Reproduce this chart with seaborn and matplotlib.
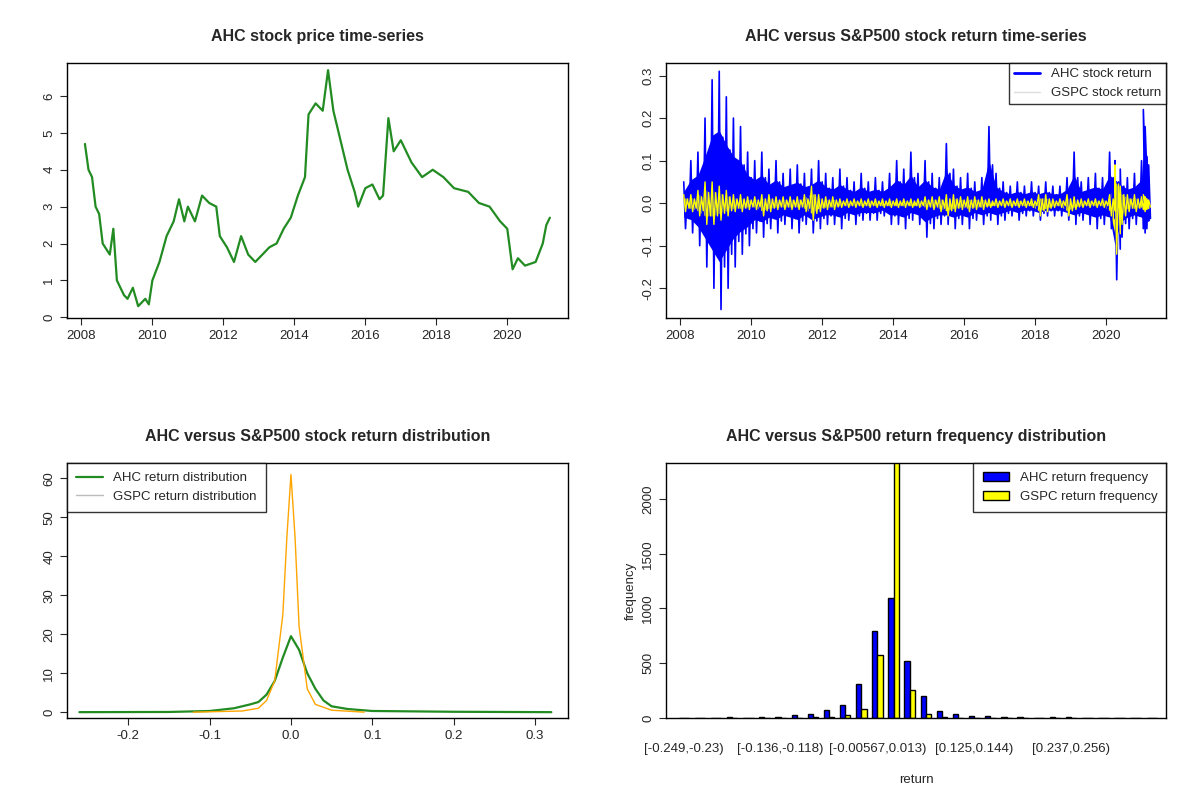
import matplotlib
matplotlib.use("Agg")
import matplotlib.pyplot as plt
import seaborn as sns
import numpy as np
import pandas as pd

sns.set_style("white")
plt.rcParams['font.family'] = ['Liberation Sans', 'DejaVu Sans']

price_t = [2008.1,2008.2,2008.3,2008.4,2008.5,2008.6,2008.8,2008.9,2009.0,2009.2,2009.3,2009.45,2009.6,2009.8,2009.9,2010.0,2010.2,2010.4,2010.6,2010.75,2010.9,2011.0,2011.2,2011.4,2011.6,2011.8,2011.9,2012.1,2012.3,2012.5,2012.7,2012.9,2013.1,2013.3,2013.5,2013.7,2013.9,2014.1,2014.3,2014.4,2014.6,2014.8,2014.95,2015.1,2015.3,2015.5,2015.7,2015.8,2016.0,2016.2,2016.4,2016.5,2016.65,2016.8,2017.0,2017.3,2017.6,2017.9,2018.2,2018.5,2018.9,2019.2,2019.5,2019.8,2020.0,2020.15,2020.3,2020.5,2020.8,2021.0,2021.1,2021.2]
price_v = [4.7,4.0,3.8,3.0,2.8,2.0,1.7,2.4,1.0,0.6,0.5,0.8,0.3,0.5,0.35,1.0,1.5,2.2,2.6,3.2,2.6,3.0,2.6,3.3,3.1,3.0,2.2,1.9,1.5,2.2,1.7,1.5,1.7,1.9,2.0,2.4,2.7,3.3,3.8,5.5,5.8,5.6,6.7,5.6,4.8,4.0,3.4,3.0,3.5,3.6,3.2,3.3,5.4,4.5,4.8,4.2,3.8,4.0,3.8,3.5,3.4,3.1,3.0,2.6,2.4,1.3,1.6,1.4,1.5,2.0,2.5,2.7]

ret_t = [2008.1,2008.3,2008.5,2008.7,2008.9,2009.1,2009.3,2009.5,2009.7,2009.9,2010.1,2010.3,2010.5,2010.7,2010.9,2011.1,2011.3,2011.5,2011.7,2011.9,2012.1,2012.3,2012.5,2012.7,2012.9,2013.1,2013.3,2013.5,2013.7,2013.9,2014.1,2014.3,2014.5,2014.7,2014.9,2015.1,2015.3,2015.5,2015.7,2015.9,2016.1,2016.3,2016.5,2016.7,2016.9,2017.1,2017.3,2017.5,2017.7,2017.9,2018.1,2018.3,2018.5,2018.7,2018.9,2019.1,2019.3,2019.5,2019.7,2019.9,2020.1,2020.25,2020.4,2020.6,2020.8,2021.0,2021.05,2021.1]
ahc_hi = [.05,.1,.12,.2,.29,.31,.25,.2,.18,.12,.1,.12,.08,.1,.07,.08,.09,.07,.08,.1,.07,.06,.08,.06,.05,.07,.05,.06,.05,.07,.1,.08,.12,.07,.1,.07,.06,.14,.08,.06,.07,.05,.06,.18,.07,.05,.04,.05,.04,.05,.04,.05,.04,.04,.06,.12,.05,.06,.07,.06,.12,.1,.08,.06,.07,.1,.22,.18]
ahc_lo = [-.06,-.07,-.1,-.15,-.2,-.25,-.2,-.15,-.12,-.1,-.07,-.08,-.06,-.07,-.05,-.06,-.07,-.05,-.07,-.06,-.05,-.05,-.06,-.04,-.05,-.04,-.04,-.04,-.03,-.05,-.05,-.06,-.04,-.05,-.08,-.06,-.05,-.05,-.06,-.05,-.06,-.04,-.05,-.04,-.05,-.04,-.03,-.04,-.03,-.03,-.04,-.03,-.03,-.03,-.04,-.05,-.04,-.05,-.06,-.05,-.06,-.18,-.08,-.06,-.05,-.06,-.07,-.06]
gspc_hi = [.02,.02,.03,.05,.05,.04,.03,.02,.02,.015,.015,.02,.02,.015,.015,.015,.015,.02,.04,.02,.015,.015,.01,.01,.01,.01,.01,.01,.01,.01,.01,.01,.01,.01,.015,.015,.015,.02,.02,.015,.015,.015,.015,.01,.01,.01,.01,.01,.01,.01,.02,.02,.01,.01,.02,.015,.01,.01,.01,.01,.02,.09,.04,.02,.02,.015,.02,.015]
gspc_lo = [-.02,-.02,-.03,-.05,-.05,-.04,-.03,-.02,-.02,-.015,-.015,-.03,-.02,-.015,-.015,-.015,-.015,-.02,-.04,-.02,-.015,-.015,-.01,-.01,-.01,-.01,-.01,-.01,-.01,-.01,-.01,-.01,-.01,-.01,-.015,-.015,-.02,-.03,-.02,-.015,-.02,-.015,-.015,-.01,-.01,-.01,-.01,-.01,-.01,-.01,-.03,-.02,-.01,-.01,-.03,-.015,-.01,-.01,-.01,-.01,-.03,-.12,-.05,-.02,-.02,-.015,-.02,-.015]

dens_ahc_x = [-0.26,-0.15,-0.1,-0.07,-0.05,-0.04,-0.03,-0.02,-0.01,0.0,0.01,0.02,0.03,0.04,0.05,0.07,0.1,0.2,0.32]
dens_ahc_y = [0,0.05,0.3,1,2,2.6,4.5,8,14,19.5,16,10,6,3,1.5,0.8,0.3,0.1,0]
dens_gspc_x = [-0.12,-0.06,-0.04,-0.03,-0.02,-0.01,-0.005,0.0,0.005,0.01,0.02,0.03,0.05,0.09]
dens_gspc_y = [0,0.3,1,3,8,25,45,61,45,22,6,2,0.5,0]

ahc_freq = [1,1,1,5,1,10,8,25,34,70,115,310,795,1100,519,197,68,40,21,21,12,12,3,5,5,2,2,1,1,1]
gspc_freq = [0,0,0,0,0,0,0,0,12,12,30,86,577,2400,260,40,9,2,0,0,0,0,0,0,0,0,0,0,0,0]
bin_ticks = {0:"[-0.249,-0.23)",6:"[-0.136,-0.118)",12:"[-0.00567,0.013)",18:"[0.125,0.144)",24:"[0.237,0.256)"}

def interleave(t, hi, lo):
    tt, vv = [], []
    for i in range(len(t)):
        tt += [t[i], t[i] + 0.05, t[i] + 0.1, t[i] + 0.15]
        vv += [hi[i], lo[i], hi[i] * 0.5, lo[i] * 0.6]
    return tt, vv

fig = plt.figure(figsize=(12, 8), dpi=100)
axs = [fig.add_axes([.056, .6025, .417, .319]), fig.add_axes([.555, .6025, .417, .319]),
       fig.add_axes([.056, .1025, .417, .319]), fig.add_axes([.555, .1025, .417, .319])]
for ax in axs:
    for s in ax.spines.values():
        s.set_color("black"); s.set_linewidth(1)
    ax.tick_params(axis='both', length=5, direction='out', left=True, bottom=True, labelsize=9.5)
tf = dict(fontsize=11.5, fontweight='bold', pad=16)

ax = axs[0]
sns.lineplot(x=price_t, y=price_v, ax=ax, color='forestgreen', lw=1.6)
ax.set_title("AHC stock price time-series", **tf)
ax.set_yticks(range(0, 7)); ax.set_xticks(range(2008, 2021, 2))
ax.set_xlim(2007.6, 2021.7); ax.set_ylim(-0.02, 6.9)

ax = axs[1]
t1, v1 = interleave(ret_t, ahc_hi, ahc_lo)
t2, v2 = interleave(ret_t, gspc_hi, gspc_lo)
ax.fill_between(ret_t, [h * 0.55 for h in ahc_hi], [l * 0.55 for l in ahc_lo], color='blue', lw=0)
ax.plot(t1, v1, color='blue', lw=1.2, label='AHC stock return')
ax.fill_between(ret_t, [h * 0.6 for h in gspc_hi], [l * 0.6 for l in gspc_lo], color='yellow', lw=0)
ax.plot(t2, v2, color='yellow', lw=1.0, label='GSPC stock return')
ax.set_title("AHC versus S&P500 stock return time-series", **tf)
ax.set_xticks(range(2008, 2021, 2)); ax.set_xlim(2007.6, 2021.7); ax.set_ylim(-0.27, 0.33)
ax.set_yticks([-0.2,-0.1,0,0.1,0.2,0.3]); ax.set_yticklabels(["-0.2","-0.1","0.0","0.1","0.2","0.3"])
leg = ax.legend(loc='upper right', fontsize=9.5, fancybox=False, edgecolor='black', borderaxespad=0)
leg.get_lines()[0].set_linewidth(2)
leg.get_lines()[1].set_color('#dddddd'); leg.get_lines()[1].set_linewidth(1)

ax = axs[2]
ax.plot(dens_ahc_x, dens_ahc_y, color='forestgreen', lw=1.6, label='AHC return distribution')
ax.plot(dens_gspc_x, dens_gspc_y, color='orange', lw=1, label='GSPC return distribution')
ax.set_title("AHC versus S&P500 stock return distribution", **tf)
ax.set_xlim(-0.275, 0.34); ax.set_ylim(-1.5, 64)
ax.set_xticks([-0.2,-0.1,0,0.1,0.2,0.3]); ax.set_xticklabels(["-0.2","-0.1","0.0","0.1","0.2","0.3"])
ax.set_yticks(range(0, 61, 10))
leg = ax.legend(loc='upper left', fontsize=9.5, fancybox=False, edgecolor='black', borderaxespad=0, borderpad=0.7)
leg.get_lines()[1].set_color('#bbbbbb')

ax = axs[3]
n = len(ahc_freq)
df = pd.DataFrame({"bin": list(range(n)) * 2, "freq": ahc_freq + gspc_freq,
                   "series": ["AHC return frequency"] * n + ["GSPC return frequency"] * n})
sns.barplot(data=df, x="bin", y="freq", hue="series", palette=["blue", "yellow"],
            edgecolor="black", linewidth=1, width=0.65, ax=ax, saturation=1)
ax.set_title("AHC versus S&P500 return frequency distribution", **tf)
ax.set_ylim(0, 2330)
ax.set_xlim(-1.1, n - 0.1)
ax.set_xticks(list(bin_ticks.keys())); ax.set_xticklabels(list(bin_ticks.values()))
ax.tick_params(axis='x', length=0, pad=18)
ax.set_yticks(range(0, 2001, 500))
ax.set_xlabel("return", fontsize=9.5, labelpad=14); ax.set_ylabel("frequency", fontsize=9.5)
leg = ax.legend(loc='upper right', fontsize=9.5, fancybox=False, edgecolor='black', borderaxespad=0, title=None, borderpad=0.7)

for ax in axs:
    for lab in ax.get_yticklabels():
        lab.set_rotation(90); lab.set_va('center')

fig.savefig("out.png", dpi=100)
